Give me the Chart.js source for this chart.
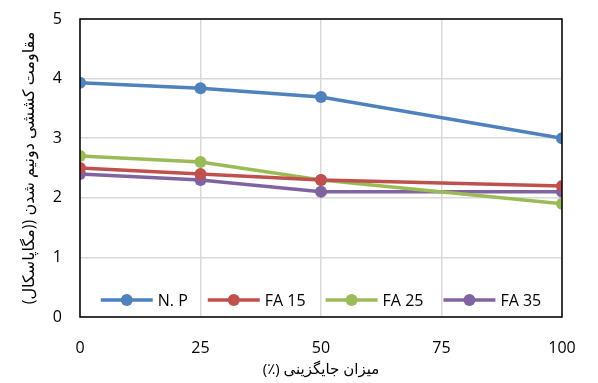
<!DOCTYPE html>
<html>
<head>
<meta charset="utf-8">
<script src="https://cdn.jsdelivr.net/npm/chart.js@4/dist/chart.umd.min.js"></script>
<style>
html,body{margin:0;padding:0;background:#fff;}
#wrap{width:598px;height:383px;}
</style>
</head>
<body>
<div id="wrap"><canvas id="c" width="598" height="383"></canvas></div>
<script>
const xValues = [0, 25, 50, 100];
const seriesNames = ['N. P', 'FA 15', 'FA 25', 'FA 35'];
const npValues = [3.93, 3.84, 3.69, 3.0];
const fa15Values = [2.5, 2.4, 2.3, 2.2];
const fa25Values = [2.7, 2.6, 2.3, 1.9];
const fa35Values = [2.4, 2.3, 2.1, 2.1];
const xTicks = [0, 25, 50, 75, 100];
const yTicks = [0, 1, 2, 3, 4, 5];
const colors = ['#4F81BD', '#C0504D', '#9BBB59', '#8064A2'];
const xTitle = 'میزان جایگزینی (٪)\u200F';
const yTitle = 'مقاومت کششی دونیم شدن ((مگاپاسکال)';

const FONT = "'Open Sans', 'DejaVu Sans', sans-serif";

function mk(name, vals, color) {
  return {
    label: name,
    data: xValues.map((x, i) => ({x: x, y: vals[i]})),
    borderColor: color,
    backgroundColor: color,
    borderWidth: 3.5,
    pointRadius: 6,
    pointHoverRadius: 6,
    pointBorderWidth: 0,
    tension: 0
  };
}

const borderPlugin = {
  id: 'plotBorder',
  afterDatasetsDraw(chart) {
    const a = chart.chartArea, ctx = chart.ctx;
    ctx.save();
    ctx.strokeStyle = '#000';
    ctx.lineWidth = 1.5;
    ctx.strokeRect(a.left, a.top, a.right - a.left, a.bottom - a.top);
    ctx.font = '16px ' + FONT;
    ctx.textBaseline = 'middle';
    ctx.textAlign = 'left';
    const lineW = 52, gap = 5, sep = 20;
    const items = chart.data.datasets.map(d => ({label: d.label, color: d.borderColor, w: ctx.measureText(d.label).width}));
    let total = 0;
    items.forEach((it, i) => { total += lineW + gap + it.w + (i < items.length - 1 ? sep : 0); });
    let x = (a.left + a.right) / 2 - total / 2;
    const y = a.bottom - 17;
    items.forEach(it => {
      ctx.strokeStyle = it.color;
      ctx.lineWidth = 3.5;
      ctx.beginPath(); ctx.moveTo(x, y); ctx.lineTo(x + lineW, y); ctx.stroke();
      ctx.fillStyle = it.color;
      ctx.beginPath(); ctx.arc(x + lineW / 2, y, 6, 0, Math.PI * 2); ctx.fill();
      ctx.fillStyle = '#000';
      ctx.fillText(it.label, x + lineW + gap, y + 1);
      x += lineW + gap + it.w + sep;
    });
    ctx.restore();
  }
};

new Chart(document.getElementById('c'), {
  type: 'line',
  data: {
    datasets: [
      mk(seriesNames[0], npValues, colors[0]),
      mk(seriesNames[1], fa15Values, colors[1]),
      mk(seriesNames[2], fa25Values, colors[2]),
      mk(seriesNames[3], fa35Values, colors[3])
    ]
  },
  options: {
    responsive: false,
    animation: false,
    devicePixelRatio: 1,
    layout: {padding: {left: 0, right: 36, top: 19, bottom: 4}},
    plugins: {legend: {display: false}, tooltip: {enabled: false}},
    scales: {
      x: {
        type: 'linear',
        min: 0, max: 100,
        afterBuildTicks(s) { s.ticks = xTicks.map(v => ({value: v})); },
        afterFit(s) { s.height = 62; },
        grid: {color: '#d9d9d9', lineWidth: 1.5, drawTicks: false},
        border: {display: false},
        ticks: {color: '#000', font: {family: FONT, size: 16}, padding: 22, maxRotation: 0},
        title: {display: true, text: xTitle, color: '#000', font: {family: FONT, size: 15}, padding: {top: 0, bottom: 0}}
      },
      y: {
        min: 0, max: 5,
        afterBuildTicks(s) { s.ticks = yTicks.map(v => ({value: v})); },
        afterFit(s) { s.width = 80; s.paddingTop = 0; s.paddingBottom = 0; },
        grid: {color: '#d9d9d9', lineWidth: 1.5, drawTicks: false},
        border: {display: false},
        ticks: {color: '#000', font: {family: FONT, size: 16}, padding: 18},
        title: {display: true, text: yTitle, color: '#000', font: {family: FONT, size: 16}, padding: {top: 20, bottom: 4}}
      }
    }
  },
  plugins: [borderPlugin]
});
</script>
</body>
</html>
